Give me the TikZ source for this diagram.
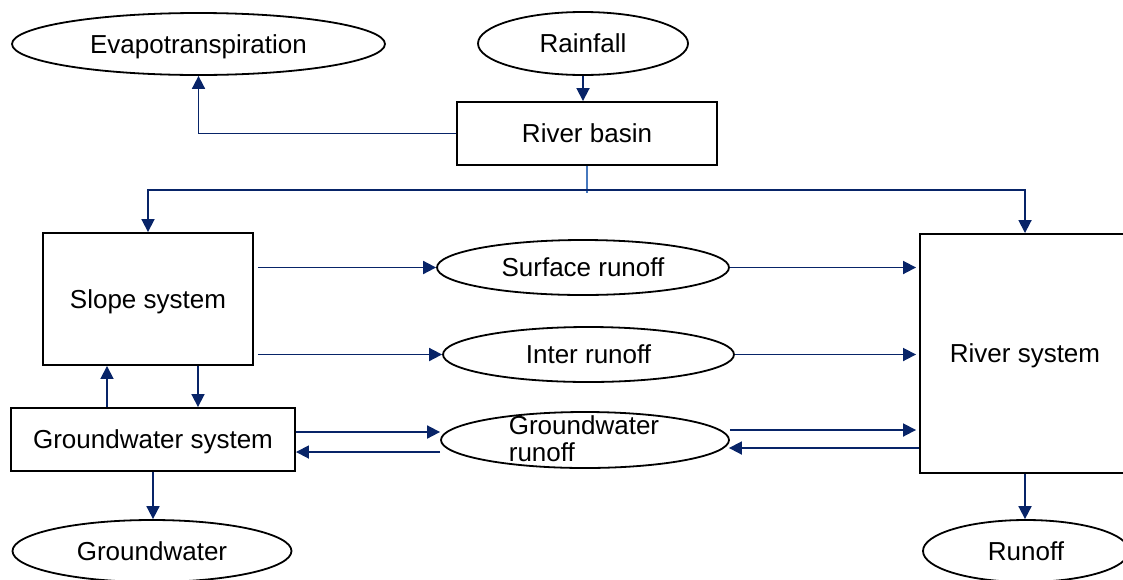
\documentclass[tikz,border=0pt]{standalone}
\usepackage{fontspec}
\setmainfont{Liberation Sans}
\usetikzlibrary{shapes.geometric,arrows.meta,calc}
\definecolor{navy}{RGB}{8,36,104}
\definecolor{lblue}{RGB}{70,120,190}
\begin{document}
\begin{tikzpicture}[x=1pt,y=-1pt,
  every node/.style={font=\fontsize{26}{27}\selectfont, inner sep=0pt},
  captext/.style={text height=18.6pt, text depth=0pt},
  boxn/.style={draw=black, line width=1.9pt, rectangle, captext},
  elln/.style={draw=black, line width=1.8pt, ellipse, captext},
  arr/.style={draw=navy, line width=1.8pt, -{Triangle[length=13pt,width=13pt]}},
  plain/.style={draw=navy, line width=1.8pt}]
\clip (0,0) rectangle (1123,579);
\useasboundingbox (0,0) rectangle (1123,579);
% nodes
\node[elln, minimum width=373, minimum height=62] (evap) at (198.5,44) {Evapotranspiration};
\node[elln, minimum width=210, minimum height=63] (rain) at (583,43.5) {Rainfall};
\node[boxn, minimum width=260, minimum height=63] (basin) at (587,133.5) {River basin};
\node[boxn, minimum width=210, minimum height=132] (slope) at (148,299) {Slope system};
\node[boxn, minimum width=210, minimum height=239] (river) at (1025,353.5) {};
\node[captext] at (1025,353) {River system};
\node[elln, minimum width=292, minimum height=55] (surf) at (583,267.5) {Surface runoff};
\node[elln, minimum width=291, minimum height=55] (inter) at (588.5,354.5) {Inter runoff};
\node[draw=black, line width=1.8pt, ellipse, minimum width=288, minimum height=56] (gwr) at (585,440) {};
\node[align=left] (gwrtext) at (584,439) {Groundwater\\runoff};
\node[boxn, minimum width=284, minimum height=63] (gws) at (153,439.5) {Groundwater system};
\node[elln, minimum width=279, minimum height=62] (gw) at (152,551) {Groundwater};
\node[elln, minimum width=206, minimum height=62] (runoff) at (1026,551) {Runoff};
\coordinate (bus) at (587,190);
% connectors
\draw[arr] (rain.south) -- (rain.south |- basin.north);
\draw[arr] (basin.west) -| (evap.south);
\draw[draw=lblue, line width=1.4pt] (basin.south) -- ([yshift=-3pt]bus);
\draw[arr] (bus) -| (slope.north);
\draw[arr] (bus) -| (river.north);
\draw[arr] ([xshift=4pt]slope.east |- surf.west) -- (surf.west);
\draw[arr] (surf.east) -- ([xshift=-3pt]river.west |- surf.east);
\draw[arr] ([xshift=4pt]slope.east |- inter.west) -- (inter.west);
\draw[arr] (inter.east) -- ([xshift=-3pt]river.west |- inter.east);
\draw[arr] ([xshift=50pt]slope.south) -- ([xshift=50pt]slope.south |- gws.north);
\draw[arr] ([xshift=-46pt]gws.north) -- ([xshift=-46pt]gws.north |- slope.south);
\draw[arr] ([yshift=7.5pt]gws.east) -- ([yshift=7.5pt]gws.east -| gwr.west);
\draw[arr] ([yshift=-12pt]gwr.west) -- ([yshift=-12pt]gwr.west -| gws.east);
\draw[arr] ([yshift=10pt]gwr.east) -- ([yshift=10pt,xshift=-3pt]gwr.east -| river.west);
\draw[arr] ([yshift=-8pt]gwr.east -| river.west) -- ([yshift=-8pt,xshift=-1pt]gwr.east);
\draw[arr] (gws.south) -- (gws.south |- gw.north);
\draw[arr] (river.south) -- (river.south |- runoff.north);
\end{tikzpicture}
\end{document}
